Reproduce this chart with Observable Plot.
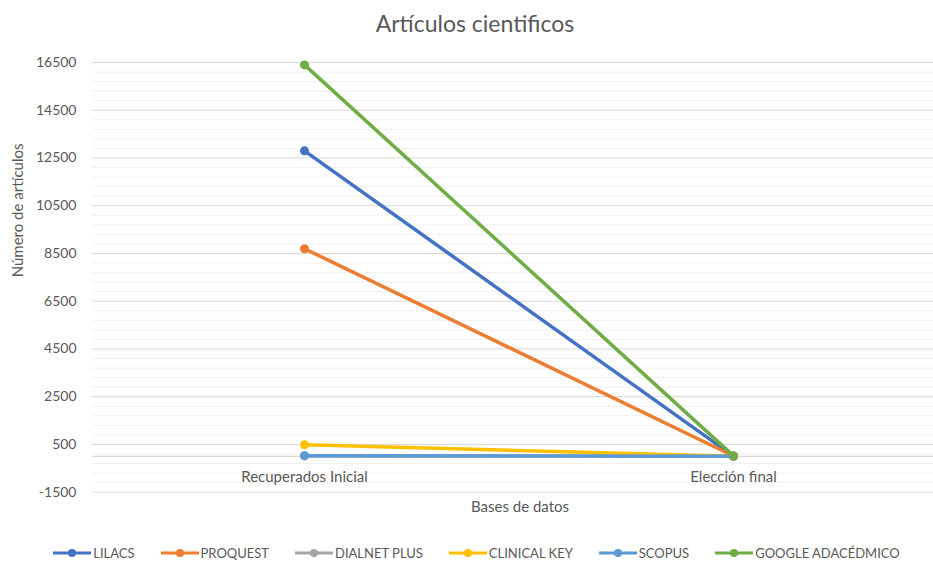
<!DOCTYPE html>
<html>
<head>
<meta charset="utf-8">
<script src="https://cdn.jsdelivr.net/npm/d3@7"></script>
<script src="https://cdn.jsdelivr.net/npm/@observablehq/plot@0.6"></script>
<style>
  html, body { margin: 0; padding: 0; background: #fff; overflow: hidden; }
  body { width: 933px; height: 561px; position: relative; font-family: Lato, "Open Sans", sans-serif; color: #595959; }
  #title { position: absolute; left: 0; top: 9px; width: 950px; text-align: center; font-size: 23px; color: #595959; }
  #chart { position: absolute; left: 0; top: 40px; }
  #legend { position: absolute; left: 0; top: 545px; width: 953px; display: flex; justify-content: center; gap: 26px; font-size: 13px; color: #595959; }
  .item { display: flex; align-items: center; gap: 2px; }
</style>
</head>
<body>
<div id="title">Artículos cientificos</div>
<div id="chart"></div>
<div id="legend"></div>
<script>
const categories = ["Recuperados Inicial", "Elección final"];
const seriesNames = ["LILACS", "PROQUEST", "DIALNET PLUS", "CLINICAL KEY", "SCOPUS", "GOOGLE ADACÉDMICO"];
const lilacs = [12800, 12];
const proquest = [8700, 15];
const dialnet = [20, 5];
const clinicalKey = [490, 8];
const scopus = [30, 10];
const google = [16400, 20];
const colors = ["#4472C4", "#ED7D31", "#A5A5A5", "#FFC000", "#5B9BD5", "#70AD47"];
const yTicks = [-1500, 500, 2500, 4500, 6500, 8500, 10500, 12500, 14500, 16500];
const minorTicks = d3.range(-1500, 16501, 400).filter(v => !yTicks.includes(v));
const xTitle = "Bases de datos";
const yTitle = "Número de artículos";

const seriesValues = [lilacs, proquest, dialnet, clinicalKey, scopus, google];
const data = seriesNames.map((name, i) => categories.map((c, j) => ({series: name, cat: c, value: seriesValues[i][j]})));

const marks = [
  Plot.ruleY(minorTicks, {stroke: "#f0f0f0", strokeWidth: 1}),
  Plot.ruleY(yTicks, {stroke: "#d9d9d9", strokeWidth: 1}),
  Plot.ruleY([0], {stroke: "#d9d9d9", strokeWidth: 1.3}),
  Plot.axisY({ticks: yTicks, tickSize: 0, tickPadding: 16, tickFormat: d => String(d), fontSize: 14, fill: "#595959", label: null}),
  Plot.text(categories, {x: d => d, y: () => 0, dy: 21, fontSize: 15, fill: "#595959"}),
  Plot.text([xTitle], {frameAnchor: "bottom", dy: 20, dx: 7, fontSize: 15, fill: "#595959"}),
  Plot.text([yTitle], {frameAnchor: "left", dx: -74, rotate: -90, fontSize: 15, fill: "#595959"})
];
data.forEach((rows, i) => {
  marks.push(Plot.line(rows, {x: "cat", y: "value", stroke: colors[i], strokeWidth: 3.5}));
  marks.push(Plot.dot(rows, {x: "cat", y: "value", fill: colors[i], r: 4.5}));
});

const plot = Plot.plot({
  width: 933,
  height: 480,
  marginLeft: 92,
  marginRight: 0,
  marginTop: 22,
  marginBottom: 28.3,
  style: {fontFamily: "Lato, 'Open Sans', sans-serif", background: "transparent", overflow: "visible"},
  x: {type: "point", domain: categories, range: [304, 733], padding: 0, align: 0.5, axis: null},
  y: {domain: [-1500, 16500], axis: null},
  marks
});
document.getElementById("chart").appendChild(plot);

const legend = document.getElementById("legend");
seriesNames.forEach((name, i) => {
  const item = document.createElement("div");
  item.className = "item";
  item.innerHTML = `<svg width="38" height="10"><line x1="0" y1="5" x2="38" y2="5" stroke="${colors[i]}" stroke-width="3"/><circle cx="19" cy="5" r="4" fill="${colors[i]}"/></svg><span>${name}</span>`;
  legend.appendChild(item);
});
</script>
</body>
</html>
